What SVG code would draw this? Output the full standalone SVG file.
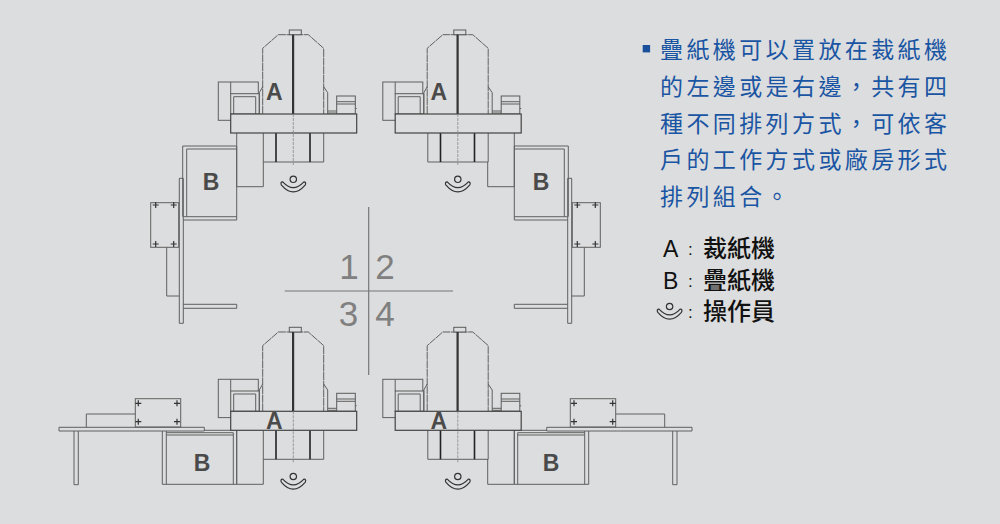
<svg xmlns="http://www.w3.org/2000/svg" width="1000" height="524" viewBox="0 0 1000 524">
<style>
.l{fill:none;stroke:#606060;stroke-width:1}
.d{fill:none;stroke:#222;stroke-width:1.6}
.h{fill:none;stroke:#888;stroke-width:.8;stroke-dasharray:3 1}
.w{fill:#dcddde;stroke:#5a5a5a;stroke-width:1}
.lab{font-family:"Liberation Sans",Arial,sans-serif;font-weight:700;font-size:23px;fill:#4a4a4a;text-anchor:middle}
.num{font-family:"Liberation Sans",Arial,sans-serif;font-size:35px;fill:#808080;text-anchor:middle}
.zh{font-family:"Noto Sans CJK TC","Noto Sans CJK SC",sans-serif;font-size:23px;letter-spacing:3.4px;fill:#1a55a3}
.lg{font-family:"Liberation Sans",sans-serif;font-size:23px;fill:#111}
.lgz{font-family:"Noto Sans CJK TC","Noto Sans CJK SC",sans-serif;font-size:24px;font-weight:500;fill:#111}
.col{font-family:"Liberation Sans",sans-serif;font-size:17px;fill:#111}
.op{fill:none;stroke:#333;stroke-width:1.2}
</style>
<defs>
<g id="machine">
<rect class="l" x="218.3" y="82" width="40" height="38.3"/>
<rect class="w" x="230.7" y="93.7" width="28.6" height="20.3"/>
<path class="l" d="M233.7 114V96.7H255.7V114M230.7 82V94"/>
<path class="l" d="M262.7 114V48.3L278.3 34.7H308.3L323.7 48.3V114" stroke-dasharray="8 .6"/>
<path class="l" d="M262.7 86.7L259.3 92.7V114M323.7 86.7L327.7 92.7V114M327.7 111H336.7M327.7 113H336.7"/>
<rect class="w" x="289.3" y="30" width="12" height="4.7"/>
<rect x="292" y="34.7" width="2.2" height="79.3" fill="#333"/>
<rect class="w" x="336.7" y="96" width="18.6" height="18"/>
<path class="l" d="M336.7 101.7H355.3M336.7 104H355.3M355.3 108.5H356.7"/>
<path class="l" d="M263.3 133V162H323.7V133"/>
<path class="d" d="M276 133V162M310 133V162"/>
<rect class="w" x="230.7" y="114" width="126" height="19" style="stroke-width:1.2;stroke:#444"/>
<path class="h" d="M293.3 114V165.5"/>
</g>
<g id="operator">
<circle class="op" cx="0" cy="0" r="3.2"/>
<path class="op" d="M-12.3 3.6Q-11.5 2.2 -10.3 2.8Q0 14 10.3 2.8Q11.5 2.2 12.3 3.6Q12.5 4.9 11.8 5.8Q0 19.5 -11.8 5.8Q-12.5 4.9 -12.3 3.6Z"/>
</g>
<g id="cross">
<path d="M-3 0H3M0 -3V3" stroke="#333" stroke-width="1.2"/>
</g>
<g id="foldSide">
<path class="l" d="M236.7 133V186.7H263.3V162"/>
<path class="l" d="M236.7 146H182.7V216.7M236.7 149H186.7V216.7M236.7 146V220M183.3 216.7H236.7M183.3 220H236.7"/>
<path class="l" d="M179.3 178.3V323.3H183.3V178.3Z"/>
<path class="l" d="M183.3 304.3H236.7V308.3H183.3"/>
<rect class="l" x="150.7" y="202.7" width="28" height="44.6"/>
<path class="l" d="M166.7 247.3V296H179.3"/>
<use href="#cross" x="155.7" y="205"/><use href="#cross" x="173.7" y="205"/>
<use href="#cross" x="155.7" y="244"/><use href="#cross" x="173.7" y="244"/>
</g>
<g id="foldBack">
<path class="l" d="M236.7 430V484.3H263.3V459"/>
<path class="l" d="M59 427.3H204.3V431H59Z"/>
<path class="l" d="M204.3 430.3H233.3"/>
<path class="l" d="M74 431V484.7H78.3V431"/>
<path class="l" d="M162.3 431V484.3H236.7M166.3 431V484.3M166.3 435H233.3M166.3 432.7H233.3M233.3 432.7V484.3M236.7 430V484.3"/>
<rect class="l" x="135.3" y="398.7" width="45.4" height="28.3"/>
<path class="l" d="M86.3 427.3V414H135.3"/>
<use href="#cross" x="138.3" y="403.3"/><use href="#cross" x="177" y="403.3"/>
<use href="#cross" x="138.3" y="421.7"/><use href="#cross" x="177" y="421.7"/>
</g>
</defs>
<rect width="1000" height="524" fill="#dcddde"/>
<g id="layout-1">
<use href="#foldSide"/><use href="#machine"/><use href="#operator" x="293.3" y="179.3"/>
<text class="lab" x="274.3" y="99.5">A</text><text class="lab" x="211" y="189.5">B</text>
</g>
<g id="layout-2">
<use href="#foldSide" transform="matrix(-1 0 0 1 751 0)"/><use href="#machine" x="164.5"/><use href="#operator" x="457.8" y="179.3"/>
<text class="lab" x="438.8" y="99.5">A</text><text class="lab" x="541" y="189.5">B</text>
</g>
<g id="layout-3">
<use href="#foldBack"/><use href="#machine" y="297.3"/><use href="#operator" x="293.3" y="476.5"/>
<text class="lab" x="274.3" y="429">A</text><text class="lab" x="202" y="471">B</text>
</g>
<g id="layout-4">
<use href="#foldBack" transform="matrix(-1 0 0 1 751 0)"/><use href="#machine" x="164.5" y="297.3"/><use href="#operator" x="457.8" y="476.5"/>
<text class="lab" x="438.8" y="429">A</text><text class="lab" x="551" y="471">B</text>
</g>
<g id="connectors">
<path d="M368.7 207V375M284.7 291H453" fill="none" stroke="#777" stroke-width="1.2"/>
</g>
<g id="numbers">
<text class="num" x="349" y="278.5">1</text><text class="num" x="385" y="278.5">2</text>
<text class="num" x="348.5" y="326">3</text><text class="num" x="385" y="326">4</text>
</g>
<g id="description">
<rect x="642.7" y="45" width="7.4" height="7.4" fill="#1a4f9c"/>
<text class="zh" x="660" y="58">疊紙機可以置放在裁紙機</text>
<text class="zh" x="660" y="95">的左邊或是右邊，共有四</text>
<text class="zh" x="660" y="131.5">種不同排列方式，可依客</text>
<text class="zh" x="660" y="168">戶的工作方式或廠房形式</text>
<text class="zh" x="660" y="204.5">排列組合。</text>
</g>
<g id="legend">
<text class="lg" x="663" y="257">A</text><text class="col" x="688" y="255">:</text><text class="lgz" x="703" y="257">裁紙機</text>
<text class="lg" x="663" y="289">B</text><text class="col" x="688" y="287">:</text><text class="lgz" x="703" y="289">疊紙機</text>
<use href="#operator" x="669.6" y="306.5"/>
<text class="col" x="688" y="318">:</text><text class="lgz" x="703" y="320">操作員</text>
</g>
</svg>
